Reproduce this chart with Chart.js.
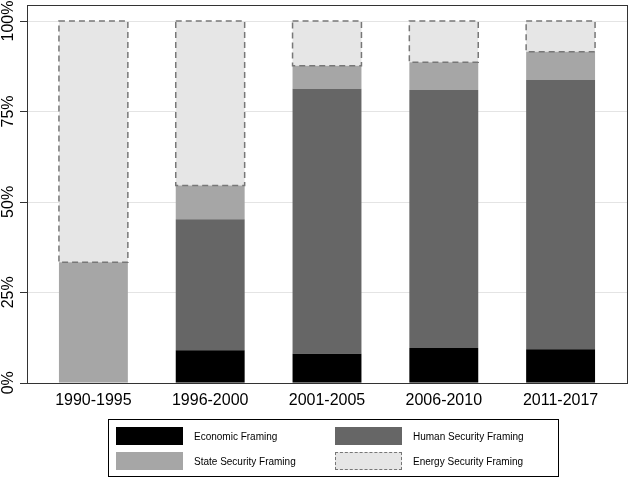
<!DOCTYPE html>
<html>
<head>
<meta charset="utf-8">
<script src="https://cdn.jsdelivr.net/npm/chart.js@4"></script>
<style>
  html, body { margin: 0; padding: 0; background: #fff; }
  #wrap { position: relative; width: 628px; height: 478px; }
  #legend {
    position: absolute; left: 108px; top: 419px; width: 451px; height: 58px;
    border: 1px solid #000; box-sizing: border-box;
    font-family: "Liberation Sans", Arial, sans-serif; font-size: 10px; color: #000;
  }
  .item { position: absolute; display: flex; align-items: center; }
  .sw { width: 67px; height: 18px; box-sizing: border-box; margin-right: 11px; }
</style>
</head>
<body>
<div id="wrap">
  <canvas id="chart" width="628" height="478"></canvas>
  <div id="legend"></div>
</div>
<script>
const periods = ['1990-1995', '1996-2000', '2001-2005', '2006-2010', '2011-2017'];
const economic = [0, 9.0, 8.0, 9.6, 9.3];
const human = [0, 36.2, 73.3, 71.3, 74.4];
const stateSec = [33.3, 9.3, 6.3, 7.7, 7.8];
const energy = [66.7, 45.5, 12.4, 11.4, 8.5];
const yTicks = [0, 25, 50, 75, 100];

const series = [
    { label: 'Economic Framing', data: economic, color: '#000000' },
    { label: 'Human Security Framing', data: human, color: '#666666' },
    { label: 'State Security Framing', data: stateSec, color: '#a6a6a6' },
    { label: 'Energy Security Framing', data: energy, color: '#e6e6e6', dashed: true }
];

const FRAME_LEFT = 27;
const FRAME_RIGHT = 627;
const FRAME_TOP = 5;

// Gridlines + outer ticks, rotated y labels, dashed energy outlines, plot frame
const framePlugin = {
    id: 'frame',
    beforeDatasetsDraw(chart) {
        const ctx = chart.ctx;
        const y = chart.scales.y;
        ctx.save();
        ctx.lineWidth = 1;
        yTicks.forEach(v => {
            const py = Math.round(y.getPixelForValue(v)) + 0.5;
            ctx.strokeStyle = '#e4e4e4';
            ctx.beginPath();
            ctx.moveTo(FRAME_LEFT, py);
            ctx.lineTo(FRAME_RIGHT, py);
            ctx.stroke();
            ctx.strokeStyle = '#333333';
            ctx.beginPath();
            ctx.moveTo(FRAME_LEFT - 7, py);
            ctx.lineTo(FRAME_LEFT, py);
            ctx.stroke();
        });
        ctx.fillStyle = '#000';
        ctx.font = '16px "Liberation Sans", Arial, sans-serif';
        ctx.textAlign = 'center';
        ctx.textBaseline = 'alphabetic';
        yTicks.forEach(v => {
            ctx.save();
            ctx.translate(13, y.getPixelForValue(v));
            ctx.rotate(-Math.PI / 2);
            ctx.fillText(v + '%', 0, 0);
            ctx.restore();
        });
        ctx.restore();
    },
    afterDatasetsDraw(chart) {
        const ctx = chart.ctx;
        chart.data.datasets.forEach((ds, i) => {
            if (!ds.dashed) return;
            chart.getDatasetMeta(i).data.forEach(bar => {
                const p = bar.getProps(['x', 'y', 'base', 'width'], true);
                ctx.save();
                ctx.strokeStyle = '#777777';
                ctx.lineWidth = 1.5;
                ctx.setLineDash([6, 4]);
                ctx.strokeRect(p.x - p.width / 2, p.y, p.width, p.base - p.y);
                ctx.restore();
            });
        });
        const a = chart.chartArea;
        ctx.save();
        ctx.strokeStyle = '#333333';
        ctx.lineWidth = 1;
        ctx.strokeRect(FRAME_LEFT + 0.5, FRAME_TOP + 0.5, FRAME_RIGHT - FRAME_LEFT, Math.round(a.bottom) - FRAME_TOP);
        ctx.restore();
    }
};

new Chart(document.getElementById('chart'), {
    type: 'bar',
    data: {
        labels: periods,
        datasets: series.map(s => ({
            label: s.label,
            data: s.data,
            backgroundColor: s.color,
            borderWidth: 0,
            dashed: !!s.dashed,
            barPercentage: 0.59,
            categoryPercentage: 1
        }))
    },
    options: {
        responsive: false,
        animation: false,
        layout: { padding: { top: 21, right: 9, bottom: 60, left: 0 } },
        plugins: { legend: { display: false }, tooltip: { enabled: false } },
        scales: {
            x: {
                stacked: true,
                grid: { display: false, drawTicks: false },
                border: { display: false },
                ticks: {
                    color: '#000',
                    font: { family: 'Liberation Sans', size: 16 },
                    padding: 8
                }
            },
            y: {
                stacked: true,
                min: 0,
                max: 100,
                afterBuildTicks: scale => { scale.ticks = yTicks.map(v => ({ value: v })); },
                afterFit: scale => { scale.width = 35; },
                grid: { display: false, drawTicks: false },
                border: { display: false },
                ticks: { display: false }
            }
        }
    },
    plugins: [framePlugin]
});

// HTML legend in a boxed 2x2 grid
const legend = document.getElementById('legend');
const pos = [[7, 7], [226, 7], [7, 32], [226, 32]];
series.forEach((s, i) => {
    const item = document.createElement('div');
    item.className = 'item';
    item.style.left = pos[i][0] + 'px';
    item.style.top = pos[i][1] + 'px';
    const sw = document.createElement('div');
    sw.className = 'sw';
    sw.style.background = s.color;
    if (s.dashed) sw.style.border = '1px dashed #777';
    const txt = document.createElement('span');
    txt.textContent = s.label;
    item.appendChild(sw);
    item.appendChild(txt);
    legend.appendChild(item);
});
</script>
</body>
</html>
